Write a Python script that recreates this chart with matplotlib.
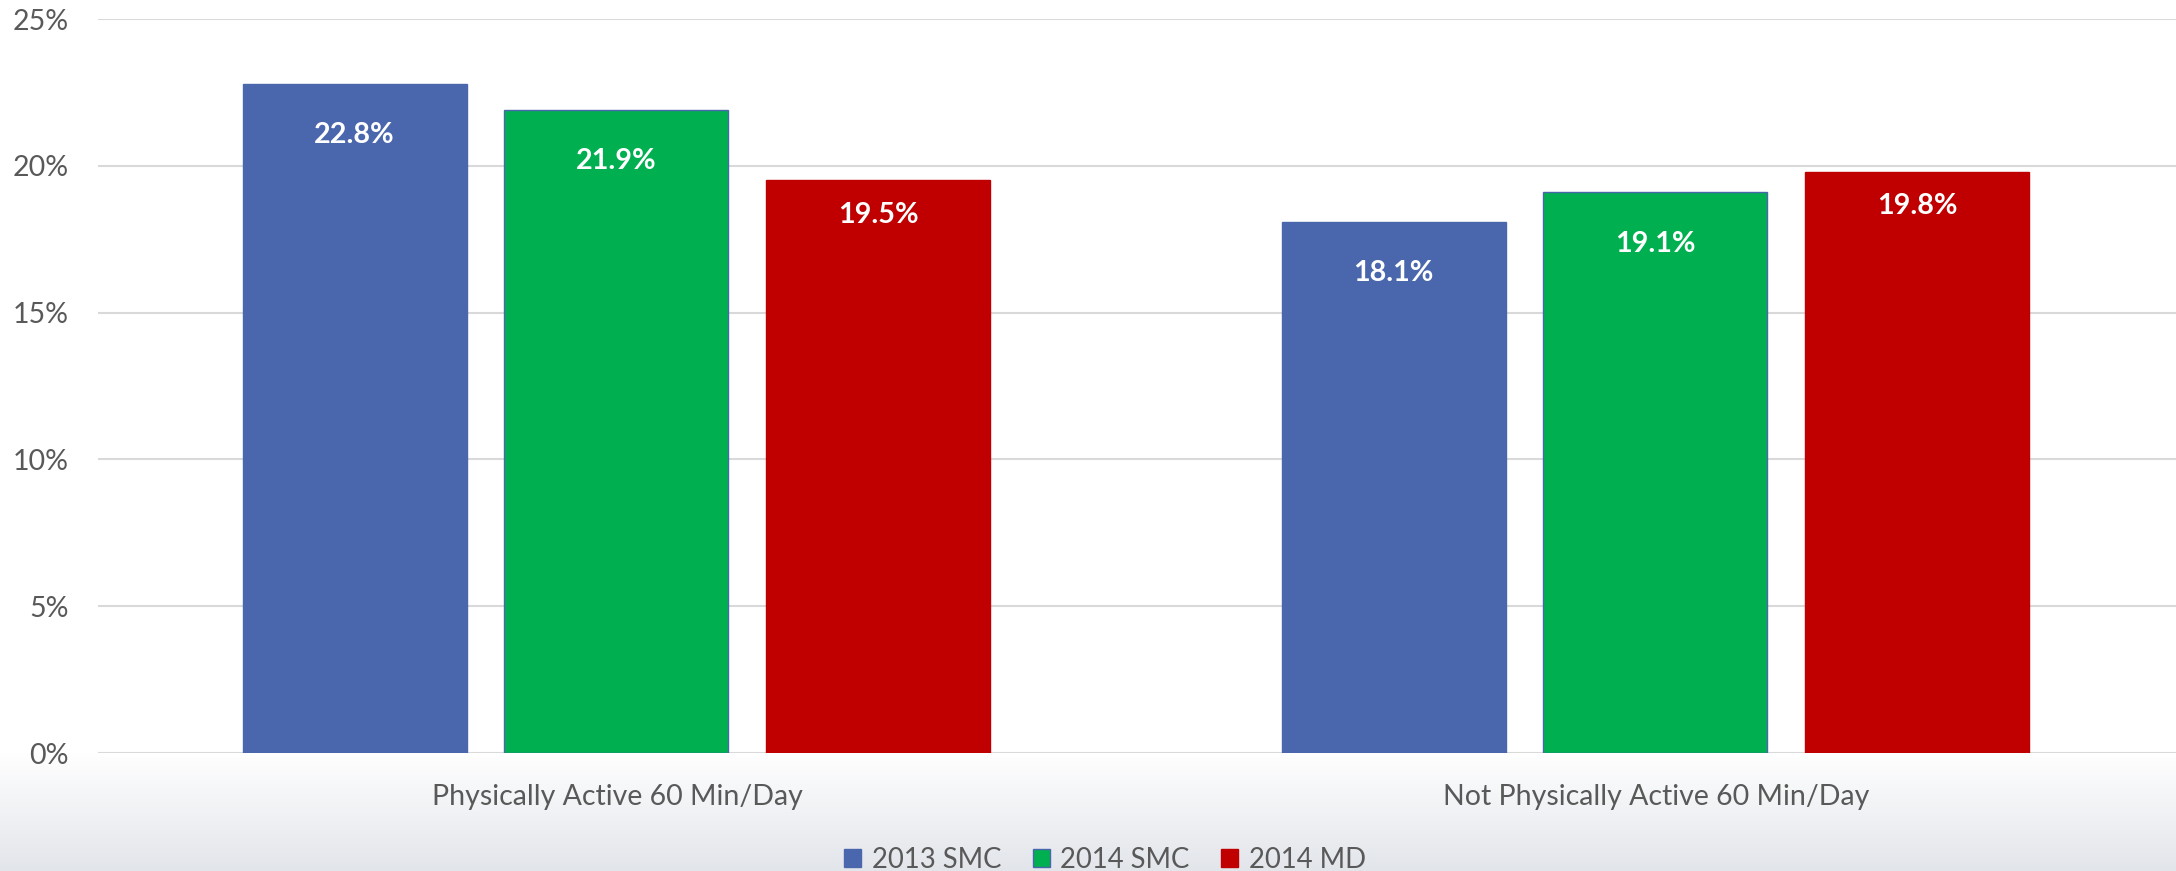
import matplotlib.pyplot as plt
import numpy as np
from matplotlib.colors import LinearSegmentedColormap

categories = ['Physically Active 60 Min/Day', 'Not Physically Active 60 Min/Day']
series = ['2013 SMC', '2014 SMC', '2014 MD']
smc_2013 = [22.8, 18.1]
smc_2014 = [21.9, 19.1]
md_2014 = [19.5, 19.8]
yticks = [0, 5, 10, 15, 20, 25]

colors = ['#4A67AD', '#00B050', '#C00000']
edges = ['#4A67AD', '#4A67AD', '#C00000']
label_drop = [37, 37, 25]  # points below bar top, per series

plt.rcParams['font.family'] = ['Lato', 'DejaVu Sans']
text_gray = '#595959'

W, H = 2176, 871
fig = plt.figure(figsize=(W / 100, H / 100), dpi=100)
fig.patch.set_facecolor('white')

# soft gray gradient at the bottom of the chart area
bg = fig.add_axes([0, 0, 1, 118 / H], zorder=0)
cmap = LinearSegmentedColormap.from_list('bg', ['#E2E5EA', '#FFFFFF'])
bg.imshow(np.linspace(0, 1, 256).reshape(-1, 1), aspect='auto', cmap=cmap,
          origin='lower', extent=[0, 1, 0, 1])
bg.axis('off')

ax = fig.add_axes([98 / W, (H - 753) / H, (W - 98) / W, (753 - 19) / H], zorder=1)
ax.set_facecolor('none')

x = np.arange(len(categories))
width = 0.2156
step = 0.252
for j, vals in enumerate([smc_2013, smc_2014, md_2014]):
    xs = x + (j - 1) * step - 0.001
    bars = ax.bar(xs, vals, width, color=colors[j], edgecolor=edges[j],
                  linewidth=1, label=series[j], zorder=3)
    for b, v in zip(bars, vals):
        ax.annotate(f'{v:.1f}%', (b.get_x() + b.get_width() / 2, v),
                    xytext=(0, -label_drop[j]), textcoords='offset points',
                    ha='center', va='center', color='white',
                    fontsize=20.7, fontweight='bold', zorder=4)

ax.set_xlim(-0.5, 1.5)
ax.set_ylim(0, 25)
ax.set_yticks(yticks)
ax.set_yticklabels([f'{t}%' for t in yticks])
ax.set_xticks(x)
ax.set_xticklabels(categories)
ax.yaxis.grid(True, color='#D9D9D9', linewidth=1.5, zorder=0)
ax.set_axisbelow(True)
for s in ax.spines.values():
    s.set_visible(False)
ax.tick_params(axis='both', length=0, labelsize=20.5, labelcolor=text_gray)
ax.tick_params(axis='y', pad=21)
ax.tick_params(axis='x', pad=22)

fig.legend(loc='center', bbox_to_anchor=(1105 / W, 1 - 860 / H), ncol=3,
           frameon=False, fontsize=19.8, labelcolor=text_gray,
           handlelength=0.62, handleheight=0.62, handletextpad=0.38,
           columnspacing=1.15)

fig.savefig('out.png', dpi=100)
